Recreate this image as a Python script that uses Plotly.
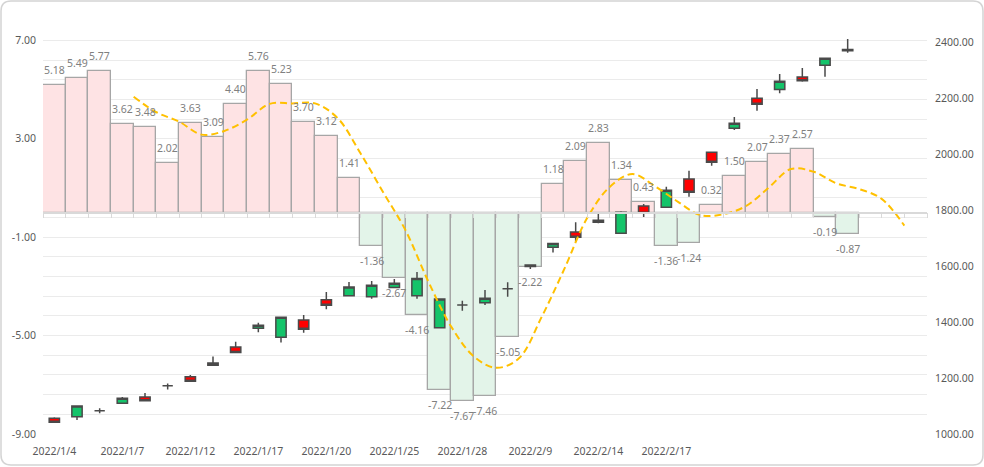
import plotly.graph_objects as go

# ---------------- data ----------------
dates = ["2022/1/4", "2022/1/5", "2022/1/6", "2022/1/7", "2022/1/10", "2022/1/11",
         "2022/1/12", "2022/1/13", "2022/1/14", "2022/1/17", "2022/1/18", "2022/1/19",
         "2022/1/20", "2022/1/21", "2022/1/24", "2022/1/25", "2022/1/26", "2022/1/27",
         "2022/1/28", "2022/2/7", "2022/2/8", "2022/2/9", "2022/2/10", "2022/2/11",
         "2022/2/14", "2022/2/15", "2022/2/16", "2022/2/17",
         "", "", "", "", "", "", "", "", "", "", ""]

bar_values = [5.18, 5.49, 5.77, 3.62, 3.48, 2.02, 3.63, 3.09, 4.40, 5.76, 5.23, 3.70,
              3.12, 1.41, -1.36, -2.67, -4.16, -7.22, -7.67, -7.46, -5.05, -2.22,
              1.18, 2.09, 2.83, 1.34, 0.43, -1.36, -1.24, 0.32, 1.50, 2.07, 2.37,
              2.57, -0.19, -0.87]

k_open = [1056, 1062, 1083, 1110, 1132, 1173, 1205, 1254, 1311, 1378, 1346, 1408,
          1480, 1495, 1491, 1524, 1495, 1380, 1462, 1470, 1520, 1599, 1668, 1723,
          1765, 1718, 1816, 1811, 1912, 2008, 2094, 2201, 2233, 2277, 2319, 2371]
k_high = [1060, 1100, 1092, 1132, 1147, 1181, 1211, 1277, 1330, 1398, 1418, 1426,
          1508, 1544, 1547, 1555, 1580, 1483, 1477, 1515, 1543, 1605, 1682, 1758,
          1793, 1797, 1823, 1885, 1942, 2008, 2134, 2234, 2288, 2310, 2344, 2413]
k_low = [1041, 1050, 1074, 1109, 1116, 1159, 1187, 1244, 1290, 1364, 1327, 1362,
         1446, 1495, 1484, 1523, 1484, 1380, 1441, 1462, 1491, 1590, 1649, 1688,
         1754, 1718, 1776, 1811, 1849, 1960, 2088, 2157, 2219, 2260, 2278, 2364]
k_close = [1042, 1100, 1083, 1128, 1119, 1173, 1189, 1246, 1292, 1389, 1418, 1375,
           1461, 1526, 1532, 1539, 1556, 1483, 1462, 1486, 1520, 1605, 1682, 1704,
           1758, 1793, 1790, 1872, 1865, 1972, 2112, 2180, 2262, 2264, 2344, 2376]

# dashed average line, starts at the 5th category
ma_start = 4
ma_values = [4.71, 4.08, 3.70, 3.17, 3.32, 3.78, 4.42, 4.44, 4.44, 3.84, 2.42, 0.84,
             -0.73, -2.80, -4.62, -5.84, -6.31, -5.92, -4.24, -2.29, -0.23, 1.04,
             1.57, 1.07, 0.45, -0.10, -0.07, 0.26, 1.00, 1.77, 1.66, 1.19, 0.96,
             0.56, -0.53]

left_ticks = [-9, -5, -1, 3, 7]
right_ticks = [1000, 1200, 1400, 1600, 1800, 2000, 2200, 2400]

# ---------------- layout constants ----------------
W, H = 984, 467
ML, MR, MT, MB = 43, 57, 20, 33
Y_RANGE = [-9, 7.83]
Y2_RANGE = [1000, 2481.3]
FONT = "Noto Sans"
AXIS_COLOR = "#595959"
LABEL_COLOR = "#808080"
GRID = "#ebebeb"

n_cat = len(dates)
idx = list(range(n_cat))
bar_x = idx[:len(bar_values)]
k_x = idx[:len(k_open)]
ma_x = [ma_start + i - 0.5 for i in range(len(ma_values))]

pos_fill, neg_fill = "#fee3e4", "#e3f4e9"
bar_colors = [pos_fill if v >= 0 else neg_fill for v in bar_values]

fig = go.Figure()

fig.add_trace(go.Bar(
    x=bar_x, y=bar_values, width=1.0,
    marker=dict(color=bar_colors, line=dict(color="#a6a6a6", width=1.3)),
    hoverinfo="skip", showlegend=False, xaxis="x", yaxis="y",
))

fig.add_trace(go.Candlestick(
    x=k_x, open=k_open, high=k_high, low=k_low, close=k_close,
    increasing=dict(fillcolor="#14c46a", line=dict(color="#4a4a4a", width=1.5)),
    decreasing=dict(fillcolor="#ff0000", line=dict(color="#4a4a4a", width=1.5)),
    whiskerwidth=0, showlegend=False, xaxis="x", yaxis="y2",
))

fig.add_trace(go.Scatter(
    x=ma_x, y=ma_values, mode="lines",
    line=dict(color="#ffc000", width=2, dash="7px,4px", shape="spline", smoothing=1.0),
    hoverinfo="skip", showlegend=False, xaxis="x2", yaxis="y",
))

# value labels on bars
for x, v in zip(bar_x, bar_values):
    fig.add_annotation(
        x=x, y=v, xref="x", yref="y", text=f"{v:.2f}", showarrow=False,
        yshift=15 if v >= 0 else -15,
        font=dict(family=FONT, size=10.5, color=LABEL_COLOR),
    )

tick_idx = [i for i in idx if i % 3 == 0 and dates[i]]

zero_pos = (0 - Y_RANGE[0]) / (Y_RANGE[1] - Y_RANGE[0])

# rounded card border (figure pixel coords -> paper coords)
pw, ph = W - ML - MR, H - MT - MB
def X(px):
    return (px - ML) / pw
def Y(py):
    return (H - MB - py) / ph
l, r, t, b, rad = 1, 983, 1, 465, 10
card = (f"M {X(l+rad)},{Y(t)} L {X(r-rad)},{Y(t)} Q {X(r)},{Y(t)} {X(r)},{Y(t+rad)} "
        f"L {X(r)},{Y(b-rad)} Q {X(r)},{Y(b)} {X(r-rad)},{Y(b)} "
        f"L {X(l+rad)},{Y(b)} Q {X(l)},{Y(b)} {X(l)},{Y(b-rad)} "
        f"L {X(l)},{Y(t+rad)} Q {X(l)},{Y(t)} {X(l+rad)},{Y(t)} Z")

fig.update_layout(
    width=W, height=H,
    margin=dict(l=ML, r=MR, t=MT, b=MB),
    paper_bgcolor="white", plot_bgcolor="white",
    bargap=0, boxgap=0.35, boxgroupgap=0.3,
    font=dict(family=FONT, size=10.5, color=AXIS_COLOR),
    xaxis=dict(
        range=[-0.5, n_cat - 0.5], tickmode="array", tickvals=tick_idx,
        ticktext=[dates[i] for i in tick_idx], showgrid=False, zeroline=False,
        showline=False, ticks="", rangeslider=dict(visible=False),
        ticklabelstandoff=9, automargin=False,
        tickfont=dict(family=FONT, size=10.5, color=AXIS_COLOR),
    ),
    xaxis2=dict(
        range=[-0.5, n_cat - 0.5], overlaying="x", anchor="free", position=zero_pos,
        side="bottom", tickmode="array", tickvals=[i - 0.5 for i in range(n_cat + 1)],
        ticks="outside", ticklen=5, tickcolor="#d9d9d9", tickwidth=1,
        showline=True, linecolor="#d9d9d9", linewidth=1.5, automargin=False,
        showticklabels=False, showgrid=False, zeroline=False,
    ),
    yaxis=dict(
        range=Y_RANGE, tickmode="array", tickvals=left_ticks,
        ticktext=[f"{v:.2f}" for v in left_ticks],
        showgrid=True, gridcolor=GRID, gridwidth=1, zeroline=False, showline=False,
        minor=dict(tickmode="linear", tick0=-9, dtick=0.8, showgrid=True,
                   gridcolor=GRID, gridwidth=1, ticks=""),
        ticklabelstandoff=6, automargin=False,
        tickfont=dict(family=FONT, size=10.5, color=AXIS_COLOR),
    ),
    yaxis2=dict(
        range=Y2_RANGE, overlaying="y", side="right", anchor="x",
        tickmode="array", tickvals=right_ticks,
        ticktext=[f"{v:.2f}" for v in right_ticks],
        showgrid=False, zeroline=False, showline=False,
        ticklabelstandoff=7, automargin=False,
        tickfont=dict(family=FONT, size=10.5, color=AXIS_COLOR),
    ),
    shapes=[dict(type="path", path=card, xref="paper", yref="paper",
                 line=dict(color="#d4d4d4", width=1.5), fillcolor="rgba(0,0,0,0)",
                 layer="below")],
)

fig.write_html("out.html")
